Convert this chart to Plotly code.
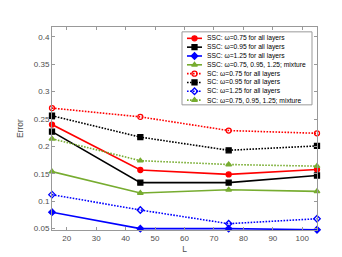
import plotly.graph_objects as go

L = [15, 45, 75, 105]

ssc_075 = [0.240, 0.157, 0.149, 0.158]
ssc_095 = [0.227, 0.134, 0.134, 0.147]
ssc_125 = [0.080, 0.050, 0.050, 0.048]
ssc_mix = [0.154, 0.115, 0.121, 0.118]
sc_075 = [0.270, 0.254, 0.229, 0.224]
sc_095 = [0.256, 0.217, 0.193, 0.201]
sc_125 = [0.112, 0.084, 0.059, 0.068]
sc_mix = [0.214, 0.174, 0.167, 0.164]

labels = [
    "SSC: ω=0.75 for all layers",
    "SSC: ω=0.95 for all layers",
    "SSC: ω=1.25 for all layers",
    "SSC: ω=0.75, 0.95, 1.25; mixture",
    "SC: ω=0.75 for all layers",
    "SC: ω=0.95 for all layers",
    "SC: ω=1.25 for all layers",
    "SC: ω=0.75, 0.95, 1.25; mixture",
]

RED = "#ff0000"
BLACK = "#000000"
BLUE = "#0000ff"
GREEN = "rgb(119,172,48)"
DOT = "1.6px,1.4px"

series = [
    (ssc_075, RED, "solid", "circle"),
    (ssc_095, BLACK, "solid", "square"),
    (ssc_125, BLUE, "solid", "diamond"),
    (ssc_mix, GREEN, "solid", "triangle-up"),
    (sc_075, RED, DOT, "circle-open"),
    (sc_095, BLACK, DOT, "square"),
    (sc_125, BLUE, DOT, "diamond-open"),
    (sc_mix, GREEN, DOT, "triangle-up"),
]

fig = go.Figure()
for (vals, col, dash, sym), name in zip(series, labels):
    fig.add_trace(go.Scatter(
        x=L, y=vals, mode="lines+markers", name=name, cliponaxis=False,
        line=dict(color=col, width=1.6, dash=dash),
        marker=dict(color=col, symbol=sym, size=5, line=dict(color=col, width=1.3)),
        showlegend=False,
    ))

# Custom compact legend on a pixel-coordinate overlay axis
row0, dy = 30.7, 9.1
for i, ((vals, col, dash, sym), name) in enumerate(zip(series, labels)):
    yy = row0 + dy * i
    fig.add_trace(go.Scatter(
        x=[179, 194], y=[yy, yy], mode="lines", xaxis="x2", yaxis="y2",
        line=dict(color=col, width=1.6, dash=dash), showlegend=False, hoverinfo="skip",
    ))
    fig.add_trace(go.Scatter(
        x=[186.5], y=[yy], mode="markers", xaxis="x2", yaxis="y2",
        marker=dict(color=col, symbol=sym, size=5, line=dict(color=col, width=1.3)),
        showlegend=False, hoverinfo="skip",
    ))
    fig.add_annotation(
        x=196.5, y=yy, xref="x2", yref="y2", text=name, showarrow=False,
        xanchor="left", yanchor="middle",
        font=dict(family="Liberation Sans, Arial", size=6.7, color="#000"),
    )

fig.add_shape(type="rect", xref="x2", yref="y2", x0=174, x1=304, y0=24, y1=99.3,
              line=dict(color="#999999", width=1), fillcolor="rgba(0,0,0,0)", layer="below")

axis_common = dict(
    showgrid=False, zeroline=False, showline=True, linecolor="#999999", linewidth=1,
    mirror="ticks", ticks="inside", ticklen=3, tickcolor="#999999",
    tickfont=dict(family="Liberation Sans, Arial", size=8, color="#4d4d4d"),
)

fig.update_layout(
    width=342, height=257,
    margin=dict(l=44, r=33, t=19, b=28.6),
    paper_bgcolor="white", plot_bgcolor="white",
    xaxis=dict(range=[15, 105], tickvals=[20, 30, 40, 50, 60, 70, 80, 90, 100],
               title=dict(text="L", standoff=4, font=dict(family="Liberation Sans, Arial", size=8.5, color="#4d4d4d")),
               **axis_common),
    yaxis=dict(range=[0.0475, 0.418], tickvals=[0.05, 0.1, 0.15, 0.2, 0.25, 0.3, 0.35, 0.4],
               ticktext=["0.05", "0.1", "0.15", "0.2", "0.25", "0.3", "0.35", "0.4"],
               title=dict(text="Error", standoff=8, font=dict(family="Liberation Sans, Arial", size=8.5, color="#4d4d4d")),
               **axis_common),
    xaxis2=dict(range=[44, 309], overlaying="x", visible=False, fixedrange=True),
    yaxis2=dict(range=[228.4, 19], overlaying="y", visible=False, fixedrange=True),
    showlegend=False,
)

fig.write_html("out.html")
